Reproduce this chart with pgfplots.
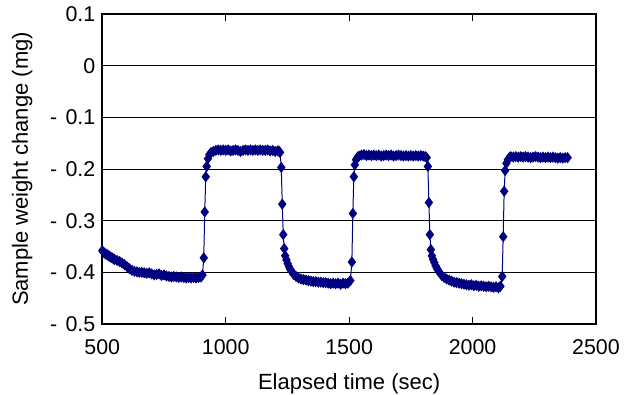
\documentclass[border=0pt]{standalone}
\usepackage{pgfplots}
\pgfplotsset{compat=1.18}
\usepackage{fontspec}
\setmainfont{Liberation Sans}
\definecolor{navy}{RGB}{0,0,128}
\begin{document}
\begin{tikzpicture}
\useasboundingbox (-51.15bp,-35.5bp) rectangle (260.85bp,162bp);
\begin{axis}[
  at={(0,0)}, anchor=south west,
  scale only axis,
  width=246.85bp, height=155bp,
  xmin=500, xmax=2500, ymin=-0.5, ymax=0.1,
  xtick={500,1000,1500,2000,2500},
  xticklabels={500,1000,1500,2000,2500},
  ytick={-0.5,-0.4,-0.3,-0.2,-0.1,0,0.1},
  yticklabels={-\hspace{1.2bp} 0.5,-\hspace{1.2bp} 0.4,-\hspace{1.2bp} 0.3,-\hspace{1.2bp} 0.2,-\hspace{1.2bp} 0.1,0,0.1},
  tick align=inside,
  major tick length=3.5bp,
  ytick style={draw=none},
  ymajorgrids,
  major grid style={black, line width=0.5bp},
  axis line style={black, line width=0.8bp},
  tick style={black, line width=0.5bp},
  ticklabel style={font=\fontsize{10.7bp}{12bp}\selectfont},
  xticklabel style={yshift=-4.5bp},
  label style={font=\fontsize{11bp}{13bp}\selectfont},
  xlabel={Elapsed time (sec)},
  ylabel={Sample weight change (mg)},
  xlabel shift=2.5bp,
  ylabel shift=2bp,
  clip=false,
]
\addplot[navy, line width=0.5bp, mark=diamond*, mark size=2.4bp, mark options={fill=navy, draw=navy}] table {
500 -0.358
505 -0.361
510 -0.363
515 -0.365
520 -0.366
525 -0.368
530 -0.369
535 -0.371
540 -0.372
545 -0.374
550 -0.375
560 -0.377
570 -0.379
580 -0.382
590 -0.385
600 -0.389
610 -0.393
620 -0.396
630 -0.398
640 -0.399
650 -0.400
660 -0.400
670 -0.401
680 -0.402
690 -0.401
700 -0.403
710 -0.405
720 -0.404
730 -0.403
740 -0.406
750 -0.405
760 -0.407
770 -0.408
780 -0.409
790 -0.408
800 -0.409
810 -0.410
820 -0.409
830 -0.410
840 -0.411
850 -0.410
860 -0.411
870 -0.410
880 -0.411
890 -0.410
900 -0.409
906 -0.405
911 -0.372
915 -0.283
919 -0.215
923 -0.195
928 -0.180
934 -0.172
941 -0.168
950 -0.166
960 -0.164
970 -0.163
980 -0.164
990 -0.163
1000 -0.164
1010 -0.163
1020 -0.165
1030 -0.164
1040 -0.163
1050 -0.164
1060 -0.166
1070 -0.164
1080 -0.163
1090 -0.164
1100 -0.163
1110 -0.164
1120 -0.163
1130 -0.164
1140 -0.163
1150 -0.164
1160 -0.164
1170 -0.163
1180 -0.165
1190 -0.164
1200 -0.166
1210 -0.165
1215 -0.165
1220 -0.168
1225 -0.197
1229 -0.268
1233 -0.327
1237 -0.354
1241 -0.368
1246 -0.376
1251 -0.383
1256 -0.389
1261 -0.394
1267 -0.398
1275 -0.404
1285 -0.408
1295 -0.411
1305 -0.413
1315 -0.414
1325 -0.415
1335 -0.416
1345 -0.417
1355 -0.418
1365 -0.418
1375 -0.419
1385 -0.419
1395 -0.420
1405 -0.420
1415 -0.421
1425 -0.422
1435 -0.421
1445 -0.422
1455 -0.421
1465 -0.423
1475 -0.421
1485 -0.422
1495 -0.421
1505 -0.416
1511 -0.380
1515 -0.286
1519 -0.215
1523 -0.192
1528 -0.182
1534 -0.177
1540 -0.175
1550 -0.173
1560 -0.172
1570 -0.174
1580 -0.173
1590 -0.174
1600 -0.173
1610 -0.174
1620 -0.173
1630 -0.175
1640 -0.174
1650 -0.173
1660 -0.174
1670 -0.173
1680 -0.175
1690 -0.174
1700 -0.173
1710 -0.174
1720 -0.175
1730 -0.174
1740 -0.175
1750 -0.174
1760 -0.175
1770 -0.174
1780 -0.175
1790 -0.174
1800 -0.175
1808 -0.176
1814 -0.178
1819 -0.195
1823 -0.265
1827 -0.327
1831 -0.356
1835 -0.368
1840 -0.375
1845 -0.381
1850 -0.387
1855 -0.392
1860 -0.396
1866 -0.400
1875 -0.406
1885 -0.410
1895 -0.413
1905 -0.415
1915 -0.417
1925 -0.419
1935 -0.420
1945 -0.421
1955 -0.422
1965 -0.423
1975 -0.424
1985 -0.425
1995 -0.424
2005 -0.426
2015 -0.425
2025 -0.427
2035 -0.426
2045 -0.427
2055 -0.428
2065 -0.427
2075 -0.428
2085 -0.429
2095 -0.428
2105 -0.430
2113 -0.427
2120 -0.408
2124 -0.331
2128 -0.243
2132 -0.203
2137 -0.189
2143 -0.182
2149 -0.178
2155 -0.176
2165 -0.177
2175 -0.176
2185 -0.177
2195 -0.176
2205 -0.177
2215 -0.176
2225 -0.177
2235 -0.178
2245 -0.177
2255 -0.176
2265 -0.177
2275 -0.178
2285 -0.177
2295 -0.178
2305 -0.177
2315 -0.178
2325 -0.177
2335 -0.178
2345 -0.179
2355 -0.178
2365 -0.179
2375 -0.178
2385 -0.178
};
\end{axis}
\end{tikzpicture}
\end{document}
